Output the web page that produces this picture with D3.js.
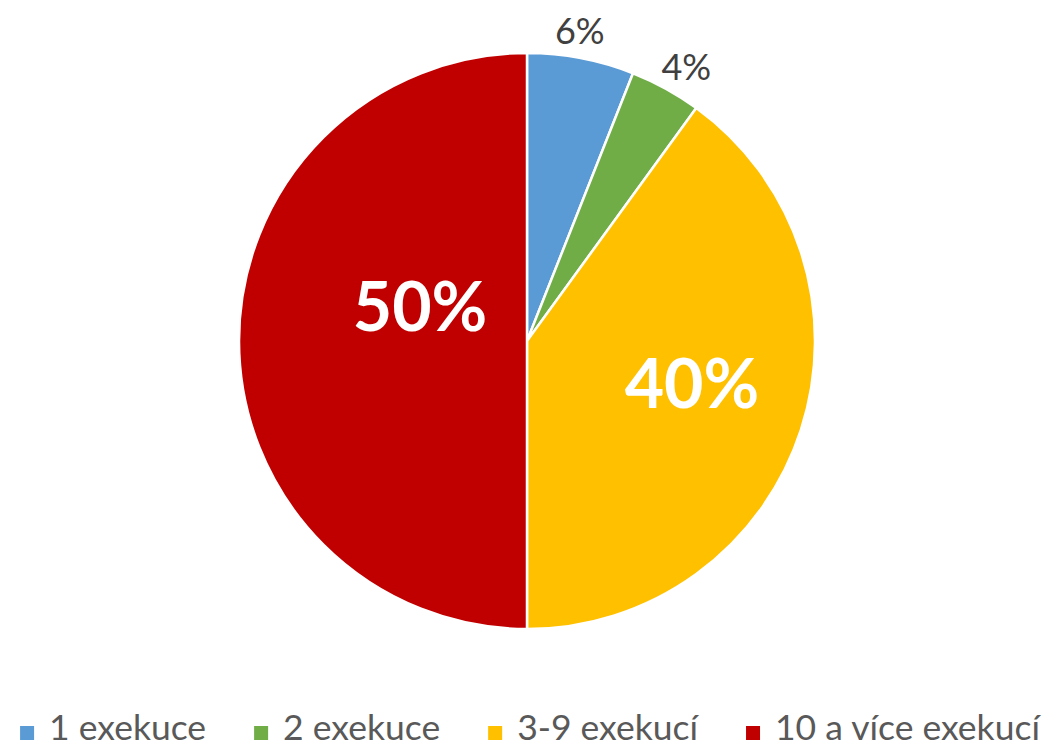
<!DOCTYPE html>
<html>
<head>
<meta charset="utf-8">
<script src="https://cdn.jsdelivr.net/npm/d3@7"></script>
<style>
  body { margin: 0; background: #fff; }
  svg { display: block; }
</style>
</head>
<body>
<svg id="chart" width="1060" height="749"></svg>
<script>
// data
var categories = ["1 exekuce", "2 exekuce", "3-9 exekucí", "10 a více exekucí"];
var values = [6, 4, 40, 50];
var colors = ["#5B9BD5", "#70AD47", "#FFC000", "#C00000"];

make_chart = function () {
    var width = 1060, height = 749;
    var cx = 527, cy = 341, radius = 288;
    var font = "Lato, 'Open Sans', sans-serif";

    var data = categories.map(function (c, i) {
        return { name: c, value: values[i] };
    });

    var color = d3.scaleOrdinal().domain(categories).range(colors);

    var pie = d3.pie().sort(null).value(d => d.value);
    var arcs = pie(data);

    var arc = d3.arc().innerRadius(0).outerRadius(radius);
    var outerLabel = d3.arc().innerRadius(314).outerRadius(314);

    var svg = d3.select("#chart");

    var g = svg.append("g")
        .attr("transform", `translate(${cx},${cy})`);

    g.selectAll("path")
        .data(arcs)
        .join("path")
        .attr("fill", d => color(d.data.name))
        .attr("stroke", "#fff")
        .attr("stroke-width", 2.5)
        .attr("stroke-linejoin", "round")
        .attr("d", arc);

    // small slices get labels outside, big ones inside (bold white)
    var inside = d => d.data.value >= 20;
    // nudge labels a bit, like excel's best fit placement
    var nudge = {
        "1 exekuce": [-6, -3],
        "2 exekuce": [8, 0],
        "3-9 exekucí": [28, -4],
        "10 a více exekucí": [37, -37]
    };

    g.selectAll("text.lbl")
        .data(arcs)
        .join("text")
        .attr("class", "lbl")
        .attr("font-family", font)
        .attr("text-anchor", "middle")
        .attr("dominant-baseline", "central")
        .attr("font-size", d => inside(d) ? 68 : 36)
        .attr("font-weight", d => inside(d) ? "bold" : "normal")
        .attr("fill", d => inside(d) ? "#fff" : "#404040")
        .attr("transform", function (d) {
            var p = inside(d) ? arc.centroid(d) : outerLabel.centroid(d);
            var n = nudge[d.data.name] || [0, 0];
            return `translate(${p[0] + n[0]},${p[1] + n[1]})`;
        })
        .text(d => d.data.value + "%");

    // legend
    var leg = svg.append("g").attr("font-family", font).attr("font-size", 35.5);
    var items = leg.selectAll("g")
        .data(categories)
        .join("g");
    items.append("rect")
        .attr("width", 14).attr("height", 14)
        .attr("y", 726)
        .attr("fill", d => color(d));
    items.append("text")
        .attr("x", 29)
        .attr("y", 740)
        .attr("fill", "#595959")
        .text(d => d);

    var gap = 48, x = 0, offs = [];
    items.each(function () {
        var w = 29 + d3.select(this).select("text").node().getComputedTextLength();
        offs.push(x);
        x += w + gap;
    });
    var total = x - gap;
    var start = (width - total) / 2;
    items.attr("transform", (d, i) => `translate(${start + offs[i]},0)`);
}

make_chart();
</script>
</body>
</html>
